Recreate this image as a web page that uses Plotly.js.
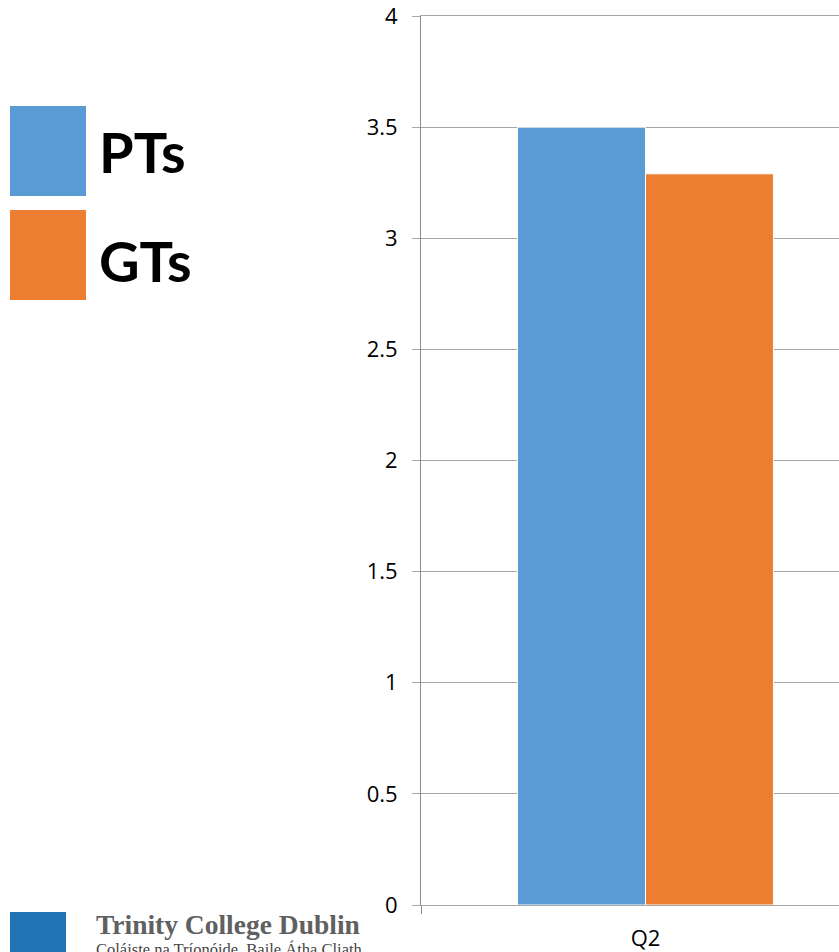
<!DOCTYPE html>
<html>
<head>
<meta charset="utf-8">
<script src="https://cdn.plot.ly/plotly-3.0.1.min.js"></script>
<style>
html,body{margin:0;padding:0;overflow:hidden;background:#fff;width:839px;height:952px;}
#chart{width:870px;height:952px;}
</style>
</head>
<body>
<div id="chart"></div>
<script>
const categories = ["Q2"];
const seriesNames = ["PTs", "GTs"];
const ptsValues = [3.5];
const gtsValues = [3.29];
const seriesColors = ["#5b9bd5", "#ed7d31"];
const yTickVals = [0, 0.5, 1, 1.5, 2, 2.5, 3, 3.5, 4];
const yTickText = ["0", "0.5", "1", "1.5", "2", "2.5", "3", "3.5", "4"];
const logoTitle = "Trinity College Dublin";
const logoSubtitle = "Coláiste na Tríonóide, Baile Átha Cliath";

const W = 870, H = 952, T = 16, B = 47;
const plotH = H - T - B;
const py = (px) => (H - B - px) / plotH;   // page pixel y -> paper y
const pxx = (px) => px / W;                 // page pixel x -> paper x

const traces = [
  {type: "bar", name: seriesNames[0], x: categories, y: ptsValues,
   marker: {color: seriesColors[0], line: {color: "#ffffff", width: 1}}, showlegend: false, hoverinfo: "skip"},
  {type: "bar", name: seriesNames[1], x: categories, y: gtsValues,
   marker: {color: seriesColors[1], line: {color: "#ffffff", width: 1}}, showlegend: false, hoverinfo: "skip"},
  {type: "scatter", x: [], y: [], xaxis: "x2", yaxis: "y", showlegend: false, hoverinfo: "skip"}
];

const tickFont = {family: "'Open Sans', Lato, sans-serif", size: 22, color: "#000"};
const legendFont = {family: "Lato, 'Open Sans', sans-serif", size: 56, color: "#000", weight: "bold"};

const annotations = [];
seriesNames.forEach((nm, i) => {
  const top = i === 0 ? 106 : 210;
  annotations.push({xref: "paper", yref: "paper", x: pxx(10), y: py(top), xanchor: "left", yanchor: "top",
    text: " ", showarrow: false, bgcolor: seriesColors[i], width: 76, height: 90, borderpad: 0, borderwidth: 0});
  annotations.push({xref: "paper", yref: "paper", x: pxx(97), y: py(i === 0 ? 152 : 260), xanchor: "left", yanchor: "middle",
    text: "<b>" + nm + "</b>", showarrow: false, font: legendFont});
});
// logo
annotations.push({xref: "paper", yref: "paper", x: pxx(10), y: py(912), xanchor: "left", yanchor: "top",
  text: " ", showarrow: false, bgcolor: "#1f73b7", width: 56, height: 50, borderpad: 0, borderwidth: 0});
annotations.push({xref: "paper", yref: "paper", x: pxx(95), y: py(908), xanchor: "left", yanchor: "top", align: "left",
  text: "<span style='font-size:27.5px;color:#606060'><b>" + logoTitle + "</b></span><br>" + logoSubtitle,
  showarrow: false, borderpad: 0,
  font: {family: "'Liberation Serif', 'DejaVu Serif', serif", size: 16.5, color: "#444"}});

const layout = {
  width: W, height: H,
  margin: {l: 0, r: 0, t: T, b: B, pad: 0},
  paper_bgcolor: "#fff", plot_bgcolor: "#fff",
  barmode: "group", bargap: 0.43, bargroupgap: 0,
  showlegend: false,
  xaxis: {domain: [421 / W, 1], type: "category", range: [-0.5, 0.5], fixedrange: true,
    showgrid: false, zeroline: false, showline: true, mirror: true, linecolor: "#a6a6a6", linewidth: 1,
    ticks: "", tickfont: tickFont, ticklabelstandoff: 14},
  xaxis2: {overlaying: "x", anchor: "y", range: [-0.5, 0.5], tickvals: [-0.5, 0.5], ticks: "outside", ticklen: 8,
    tickcolor: "#8c8c8c", showticklabels: false, showgrid: false, zeroline: false, showline: false, side: "bottom"},
  yaxis: {range: [0, 4], tickvals: yTickVals, ticktext: yTickText, showgrid: true, gridcolor: "#a6a6a6", gridwidth: 1,
    zeroline: true, zerolinecolor: "#a6a6a6", zerolinewidth: 1, showline: true, linecolor: "#8c8c8c", linewidth: 1,
    ticks: "outside", ticklen: 8, tickcolor: "#a6a6a6", tickfont: tickFont, ticklabelstandoff: 10,
    ticklabeloverflow: "allow", fixedrange: true},
  annotations: annotations
};

Plotly.newPlot("chart", traces, layout, {staticPlot: true, displayModeBar: false});
</script>
</body>
</html>
